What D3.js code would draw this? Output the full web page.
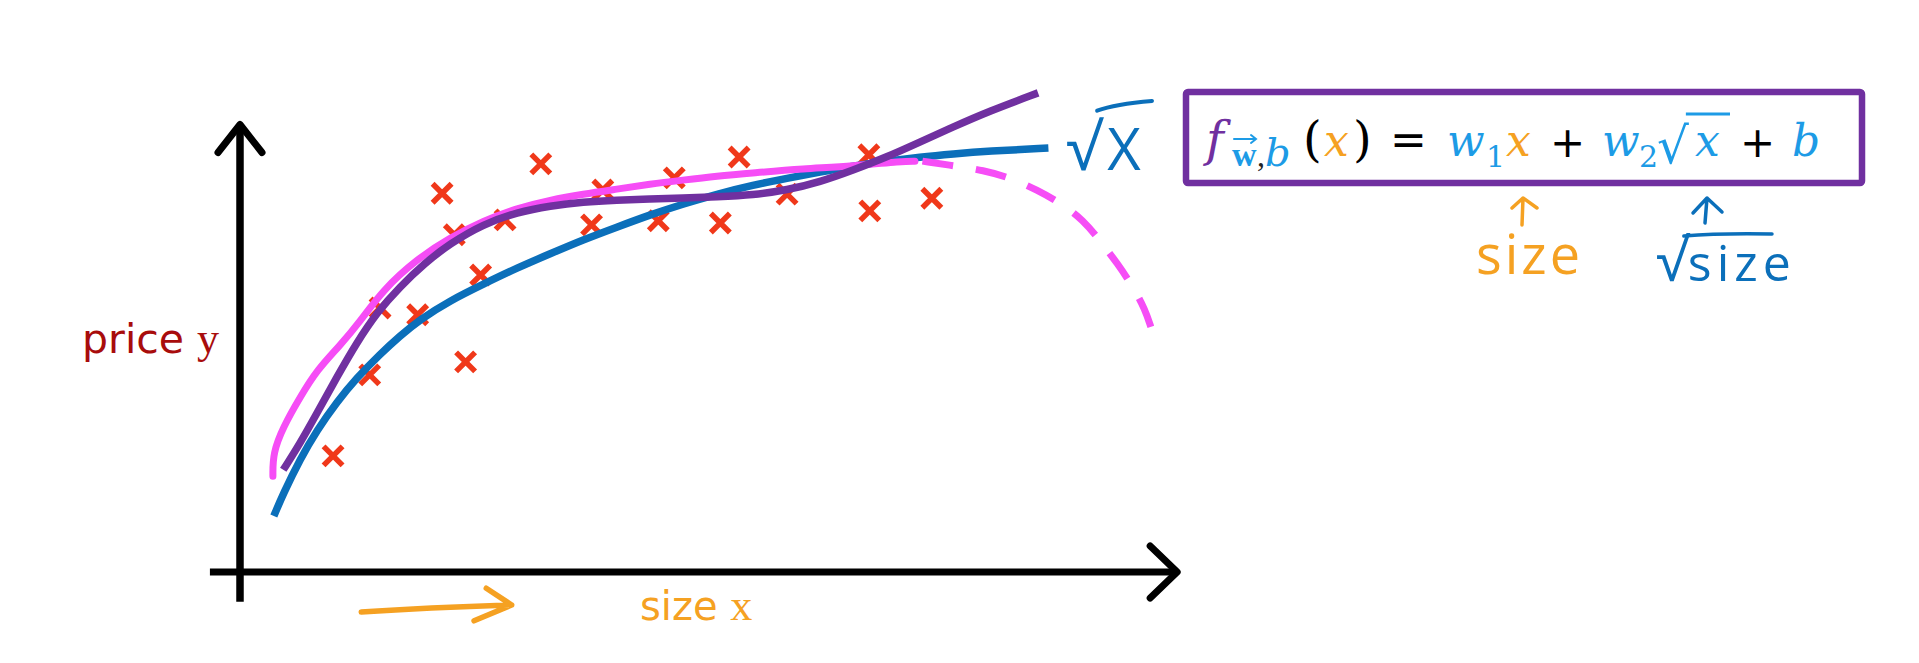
<!DOCTYPE html>
<html><head><meta charset="utf-8">
<script src="https://cdn.jsdelivr.net/npm/d3@7"></script>
<style>body{margin:0;background:#fff;} svg{display:block;}</style>
</head><body>
<svg id="chart" width="1919" height="663"></svg>
<script>
// ---- data (abstract units: size 0..100, price 0..100) ----
const crossSize  = [9.9,13.8,14.9,18.9,21.5,22.8,24.0,25.6,28.2,32.0,37.4,38.6,44.5,46.2,51.1,53.1,58.2,66.9,67.0,73.6];
const crossPrice = [25.7,43.6,58.4,56.9,83.8,74.6,46.5,65.7,77.9,90.3,76.8,84.5,77.7,87.2,77.2,91.8,83.6,92.3,79.9,82.7];

const sqrtFitSize  = [3.6,4.6,6.4,8.2,10.3,12.4,14.9,17.0,19.1,22.3,25.9,29.5,33.0,36.5,40.1,43.6,47.1,50.7,54.6,58.2,61.7,65.2,68.8,72.3,75.9,79.5,86.0];
const sqrtFitPrice = [12.4,17.3,25.0,31.4,37.6,42.9,48.2,52.2,55.8,60.0,63.7,67.3,70.4,73.5,76.3,79.0,81.4,83.6,85.6,87.1,88.5,89.8,90.9,91.8,92.5,93.1,93.8];

const cubicFitSize  = [4.6,6.4,8.2,10.3,12.4,14.6,17.0,19.7,22.3,25.9,29.5,33.0,36.5,40.1,43.6,47.1,50.7,54.6,58.2,61.7,65.2,68.8,72.3,75.9,79.5,84.9];
const cubicFitPrice = [22.6,28.5,35.2,43.1,50.7,57.5,63.1,68.4,72.6,77.0,79.6,81.0,81.9,82.3,82.5,82.7,83.0,83.4,84.5,86.3,88.9,91.8,95.1,98.5,101.8,106.0];

const quadFitSize  = [3.5,3.5,4.6,6.4,8.2,10.6,12.8,15.2,18.8,22.3,25.9,29.5,33.0,36.5,40.1,43.6,47.1,50.7,54.6,59.9,65.2,70.5,71.8];
const quadFitPrice = [21.2,26.3,32.1,38.7,44.7,50.0,55.5,62.4,69.2,73.9,77.7,80.5,82.3,83.6,84.7,85.8,86.7,87.6,88.3,89.2,89.8,90.9,90.9];

const quadExtSize  = [72.6,76.2,79.0,82.0,84.8,87.3,89.7,91.6,93.3,95.1,96.3,96.9];
const quadExtPrice = [90.9,89.8,88.9,87.2,84.5,81.6,77.9,73.0,68.4,62.8,58.0,54.2];

const yLabel = ["price", "y"];
const xLabel = ["size", "x"];
const curveLabel = ["√", "X"];
const termLabels = ["size", "size"];

// ---- setup ----
const W = 1919, H = 663;
const svg = d3.select("#chart");
svg.append("rect").attr("width", W).attr("height", H).attr("fill", "#fff");

const x = d3.scaleLinear().domain([0, 100]).range([240, 1180]);
const y = d3.scaleLinear().domain([0, 100]).range([572, 120]);

const C = {
  axis: "#000", cross: "#f0381a", blue: "#0b6fba", magenta: "#f64df6",
  purple: "#7030a0", orange: "#f5a122", dred: "#a80c0c", lblue: "#1d9be6"
};

// ---- axes ----
const ax = svg.append("g").attr("stroke", C.axis).attr("fill", "none");
const yTop = y(99), xEnd = x(99.7);
ax.append("line").attr("x1", x(0)).attr("x2", x(0)).attr("y1", y(-6.6)).attr("y2", yTop + 2).attr("stroke-width", 7.5);
ax.append("path").attr("d", `M${x(0) - 22},${yTop + 28}L${x(0)},${yTop}L${x(0) + 22},${yTop + 28}`)
  .attr("stroke-width", 7).attr("stroke-linejoin", "round").attr("stroke-linecap", "round");
ax.append("line").attr("x1", x(-3.2)).attr("x2", xEnd - 2).attr("y1", y(0)).attr("y2", y(0)).attr("stroke-width", 7);
ax.append("path").attr("d", `M${xEnd - 27},${y(0) - 26}L${xEnd},${y(0)}L${xEnd - 27},${y(0) + 26}`)
  .attr("stroke-width", 7).attr("stroke-linejoin", "round").attr("stroke-linecap", "round");

// ---- axis labels ----
const yl = svg.append("text").attr("x", 82).attr("y", 353).attr("fill", C.dred).attr("font-size", 41);
yl.append("tspan").attr("font-family", "DejaVu Sans").text(yLabel[0] + " ");
yl.append("tspan").attr("font-family", "Liberation Serif").attr("font-size", 44).text(yLabel[1]);

const xl = svg.append("text").attr("x", 640).attr("y", 620).attr("fill", C.orange).attr("font-size", 40);
xl.append("tspan").attr("font-family", "DejaVu Sans").text(xLabel[0] + " ");
xl.append("tspan").attr("font-family", "Liberation Serif").attr("font-size", 44).text(xLabel[1]);

// hand arrow under x axis
svg.append("path")
  .attr("d", `M${x(12.9)},${y(-8.85)}Q${x(20)},${y(-7.9)} ${x(28.9)},${y(-7.3)}M${x(26.2)},${y(-3.6)}L${x(28.9)},${y(-7.3)}L${x(24.9)},${y(-10.8)}`)
  .attr("fill", "none").attr("stroke", C.orange).attr("stroke-width", 5.5)
  .attr("stroke-linecap", "round").attr("stroke-linejoin", "round");

// ---- crosses ----
const crosses = crossSize.map((s, i) => [s, crossPrice[i]]);
const r = 9.5;
svg.append("g").selectAll("path").data(crosses).join("path")
  .attr("d", d => `M${x(d[0]) - r},${y(d[1]) - r}L${x(d[0]) + r},${y(d[1]) + r}M${x(d[0]) + r},${y(d[1]) - r}L${x(d[0]) - r},${y(d[1]) + r}`)
  .attr("stroke", C.cross).attr("stroke-width", 5.5).attr("fill", "none");

// ---- curves ----
const line = d3.line().x(d => x(d[0])).y(d => y(d[1])).curve(d3.curveBasis);
const zip = (a, b) => a.map((v, i) => [v, b[i]]);

svg.append("path").datum(zip(sqrtFitSize, sqrtFitPrice)).attr("d", line)
  .attr("fill", "none").attr("stroke", C.blue).attr("stroke-width", 7.5);
svg.append("path").datum(zip(quadFitSize, quadFitPrice)).attr("d", line)
  .attr("fill", "none").attr("stroke", C.magenta).attr("stroke-width", 7).attr("stroke-linecap", "round");
svg.append("path").datum(zip(quadExtSize, quadExtPrice)).attr("d", line)
  .attr("fill", "none").attr("stroke", C.magenta).attr("stroke-width", 7).attr("stroke-dasharray", "31 23");
svg.append("path").datum(zip(cubicFitSize, cubicFitPrice)).attr("d", line)
  .attr("fill", "none").attr("stroke", C.purple).attr("stroke-width", 7.5);

// ---- handwritten √X label ----
const cl = svg.append("text").attr("x", 1066).attr("y", 170).attr("fill", C.blue).attr("font-family", "Open Sans");
cl.append("tspan").attr("font-size", 64).text(curveLabel[0]);
cl.append("tspan").attr("font-size", 58).attr("dx", 6).text(curveLabel[1]);
const rad = cl.node().getExtentOfChar(0);
svg.append("path").attr("d", `M${rad.x + rad.width - 4},${rad.y + rad.height * 0.1} Q1115,104 1152,101`)
  .attr("fill", "none").attr("stroke", C.blue).attr("stroke-width", 4).attr("stroke-linecap", "round");

// ---- formula box ----
svg.append("rect").attr("x", 1186).attr("y", 92).attr("width", 676).attr("height", 91)
  .attr("fill", "none").attr("stroke", C.purple).attr("stroke-width", 6.5).attr("rx", 2);

const fm = svg.append("g");
// place a token so that its box starts at `left`
function tok(left, base, t, o) {
  const el = fm.append("text").attr("x", 0).attr("y", base).text(t)
    .attr("font-family", o.ff || "DejaVu Serif").attr("font-size", o.fs || 44)
    .attr("font-style", o.it ? "italic" : "normal").attr("font-weight", o.bold ? "bold" : "normal")
    .attr("fill", o.c || "#000");
  const b = el.node().getBBox();
  el.attr("x", left - b.x);
  return el;
}
tok(1203, 156, "f", {it: 1, c: C.purple, fs: 48});
const wv = tok(1232, 166, "w", {fs: 34, bold: 1, c: C.lblue, ff: "Liberation Serif"});
const wb = wv.node().getBBox();
fm.append("path").attr("d", `M${wb.x + 2},${139}L${wb.x + wb.width - 1},${139}M${wb.x + wb.width - 6},${135}L${wb.x + wb.width - 1},${139}L${wb.x + wb.width - 6},${143}`)
  .attr("fill", "none").attr("stroke", C.lblue).attr("stroke-width", 2).attr("stroke-linecap", "round");
tok(1257, 166, ",", {fs: 32, c: "#222", ff: "Liberation Serif"});
tok(1265, 166, "b", {fs: 40, it: 1, c: C.lblue});
tok(1303, 156, "(", {fs: 48});
tok(1324, 156, "x", {it: 1, c: C.orange});
tok(1353, 156, ")", {fs: 48});
tok(1390, 155, "=", {ff: "DejaVu Sans", fs: 44});
tok(1447, 156, "w", {it: 1, c: C.lblue});
tok(1486, 167, "1", {fs: 30, c: C.lblue});
tok(1506, 156, "x", {it: 1, c: C.orange});
tok(1550, 157, "+", {ff: "DejaVu Sans", fs: 42});
tok(1602, 156, "w", {it: 1, c: C.lblue});
tok(1639, 167, "2", {fs: 30, c: C.lblue});
const sr = tok(1657, 163, "√", {ff: "DejaVu Serif", fs: 50, c: C.lblue});
const sb = sr.node().getExtentOfChar(0);
tok(1695, 156, "x", {it: 1, c: C.lblue});
fm.append("line").attr("x1", sb.x + sb.width - 3).attr("x2", 1730).attr("y1", 114).attr("y2", 114).attr("stroke", C.lblue).attr("stroke-width", 3);
tok(1740, 157, "+", {ff: "DejaVu Sans", fs: 42});
tok(1792, 156, "b", {it: 1, c: C.lblue});

// ---- term annotations ----
const ann = svg.append("g").attr("fill", "none").attr("stroke-width", 3.5).attr("stroke-linecap", "round").attr("stroke-linejoin", "round");
ann.append("path").attr("d", "M1522,225L1523,198M1512,208L1523,198L1537,208").attr("stroke", C.orange);
ann.append("path").attr("d", "M1705,223L1707,198M1693,213L1707,198L1722,212").attr("stroke", C.blue);

svg.append("text").attr("x", 1476).attr("y", 274).attr("fill", C.orange).attr("font-family", "Open Sans")
  .attr("font-size", 54).attr("letter-spacing", 3).text(termLabels[0]);
const sq = svg.append("text").attr("x", 1656).attr("y", 281).attr("fill", C.blue).attr("font-family", "Open Sans");
sq.append("tspan").attr("font-size", 58).text("√");
sq.append("tspan").attr("font-size", 50).attr("letter-spacing", 5).text(termLabels[1]);
const sqr = sq.node().getExtentOfChar(0);
svg.append("path").attr("d", `M${sqr.x + sqr.width - 4},${236} Q1720,233 1772,234`).attr("fill", "none").attr("stroke", C.blue).attr("stroke-width", 3.5).attr("stroke-linecap", "round");
</script>
</body></html>
